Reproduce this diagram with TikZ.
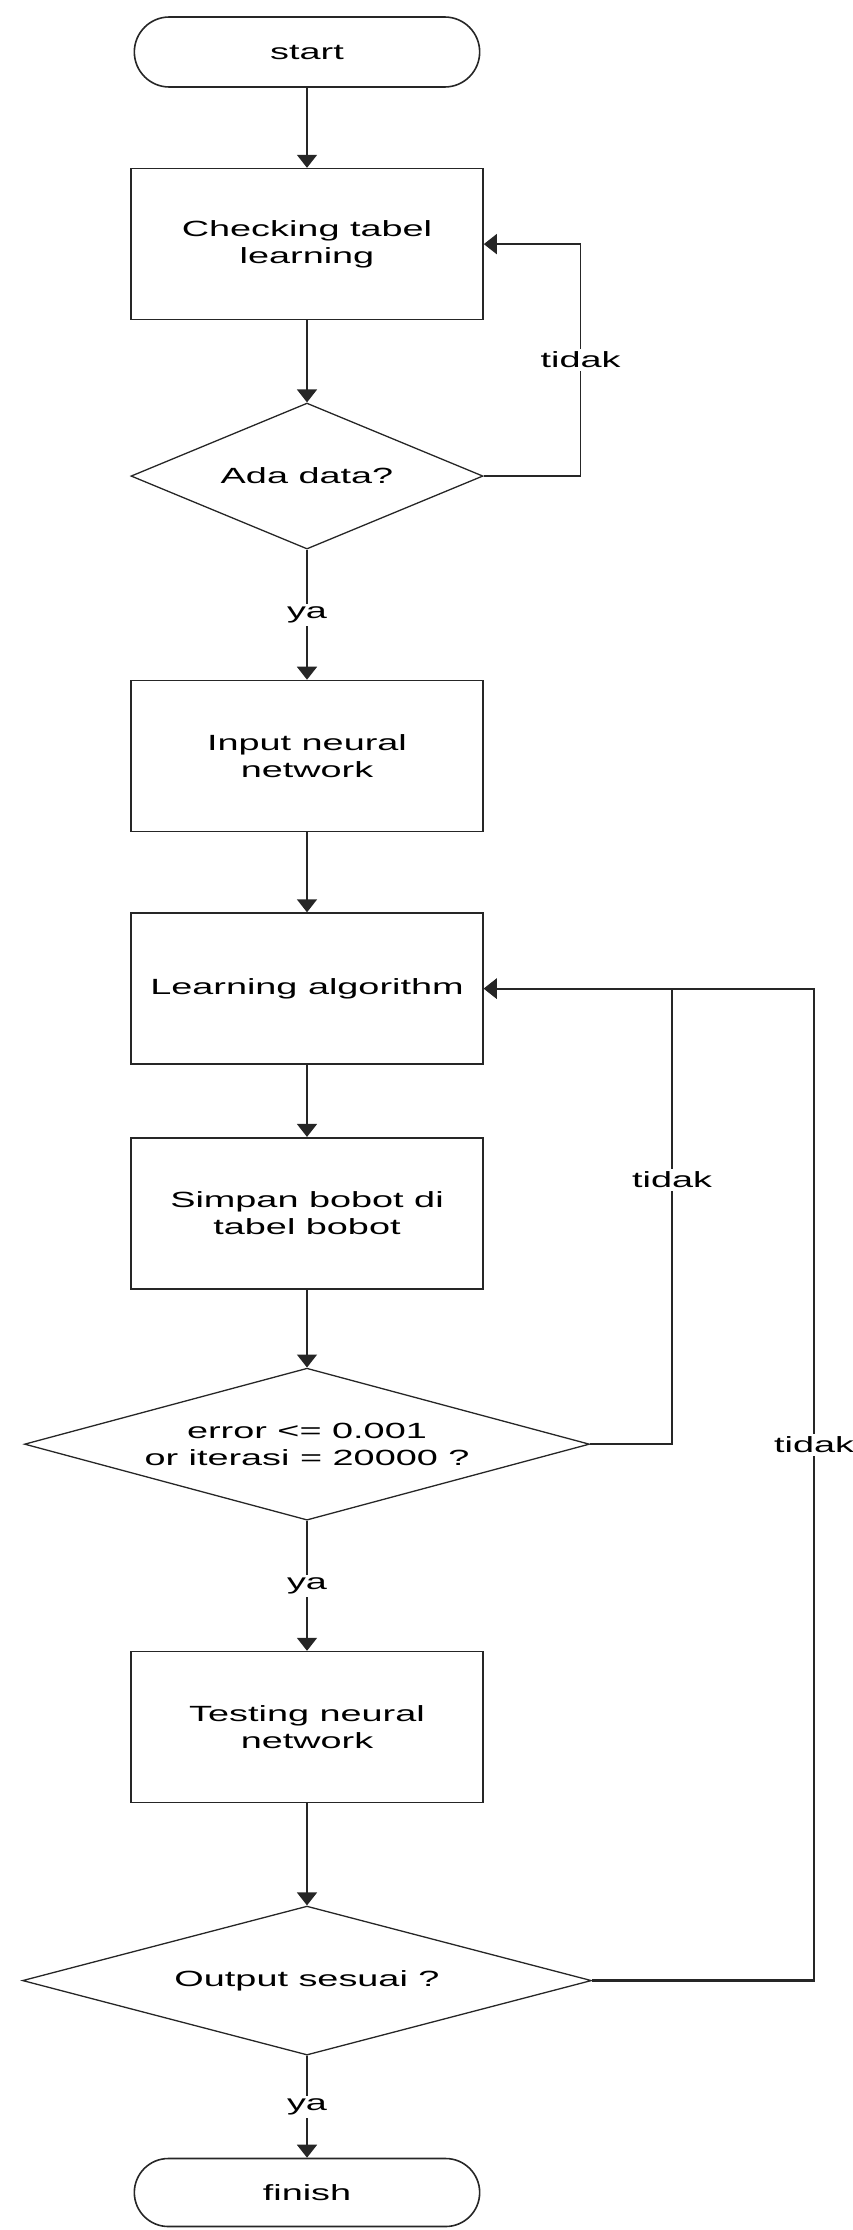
\documentclass[tikz,border=0pt]{standalone}
\usepackage{fontspec}
\setmainfont{Liberation Sans}[FakeStretch=1.72]
\usetikzlibrary{shapes.geometric, shapes.misc, arrows.meta, positioning}

\begin{document}
\begin{tikzpicture}[
    x=1pt, y=1pt,
    node distance=80pt,
    font=\fontsize{22}{27}\selectfont,
    terminal/.style={rounded rectangle, minimum width=352pt, minimum height=70pt, draw=black!85, line width=1.6pt},
    process/.style={rectangle, minimum width=352pt, minimum height=151pt, text centered, align=center, draw=black!85, line width=1.6pt},
    decision/.style={diamond, align=center, inner sep=0pt, draw=black!85, line width=1.3pt},
    arrow/.style={-{Triangle[length=13pt, width=20pt]}, line width=1.6pt, draw=black!85},
    lbl/.style={fill=white, inner sep=3pt}
]
\useasboundingbox (0,0) rectangle (853,-2230);

% Main flow
\node[terminal] (start) at (307,-52) {start};
\node[process, below=80pt of start] (check) {Checking tabel\\learning};
\node[decision, below=82pt of check, minimum width=352pt, minimum height=146pt, aspect=2.4] (ada) {Ada data?};
\node[process, below=130pt of ada] (input) {Input neural\\network};
\node[process, below=80pt of input] (learn) {Learning algorithm};
\node[process, below=72pt of learn] (simpan) {Simpan bobot di\\tabel bobot};
\node[decision, below=78pt of simpan, minimum width=565pt, minimum height=152pt, aspect=3.7] (err) {error <= 0.001\\or iterasi = 20000 ?};
\node[process, below=130pt of err] (test) {Testing neural\\network};
\node[decision, below=102pt of test, minimum width=569pt, minimum height=149pt, aspect=3.8] (out) {Output sesuai ?};
\node[terminal, below=102pt of out, minimum height=68pt] (finish) {finish};

% Arrows
\draw[arrow] (start) -- (check);
\draw[arrow] (check) -- (ada);
\draw[arrow] (ada) -- node[lbl] {ya} (input);
\draw[arrow] (input) -- (learn);
\draw[arrow] (learn) -- (simpan);
\draw[arrow] (simpan) -- (err);
\draw[arrow] (err) -- node[lbl] {ya} (test);
\draw[arrow] (test) -- (out);
\draw[arrow] (out) -- node[lbl] {ya} (finish);

% Loops back
\draw[arrow] (ada.east) -- ++(97,0) |- node[lbl, pos=0.25] {tidak} (check.east);
\draw[arrow] (err.east) -- ++(82,0) |- node[lbl, pos=0.29] {tidak} (learn.east);
\draw[arrow, line width=2.2pt] (out.east) -- ++(222,0) |- node[lbl, pos=0.27] {tidak} (learn.east);

\end{tikzpicture}
\end{document}
